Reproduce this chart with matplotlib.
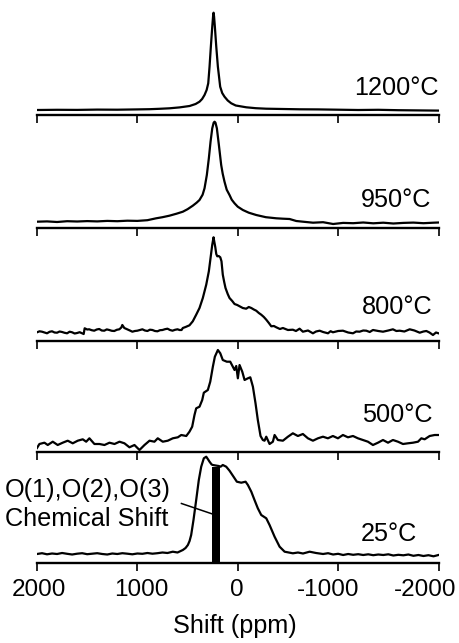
import numpy as np
import matplotlib
matplotlib.use("Agg")
import matplotlib.pyplot as plt
from matplotlib.patches import Rectangle
from matplotlib.transforms import ScaledTranslation

plt.rcParams['font.family'] = ['Liberation Sans', 'DejaVu Sans']

# ---------------------------------------------------------------------------
# 17O MAS NMR spectra (shift in ppm, intensity in arbitrary units, baseline = 0)
# ---------------------------------------------------------------------------
temperatures = ["1200°C", "950°C", "800°C", "500°C", "25°C"]

spectrum_1200 = [
    (2000, 0.0), (1800, 0.2), (1600, 0.1), (1400, 0.4), (1200, 0.3), (1000, 0.6),
    (880, 0.8), (780, 1.2), (680, 1.7), (580, 2.6), (480, 4.0), (420, 6.0),
    (381, 8.3), (355, 11.0), (331, 15.0), (310, 20.0), (294, 26.7), (281, 43.3),
    (268, 63.3), (254, 83.3), (246, 93.5), (241, 97.3), (236, 93.5), (228, 83.3),
    (214, 63.3), (198, 43.3), (175, 23.3), (155, 17.0), (132, 13.3), (100, 9.5),
    (65, 6.7), (20, 4.5), (-85, 2.7), (-180, 1.8), (-283, 1.3), (-450, 1.0),
    (-616, 0.7), (-800, 0.6), (-1000, 0.3), (-1200, 0.0), (-1400, 0.2),
    (-1600, -0.2), (-1800, -0.4), (-2000, -0.6),
]

spectrum_950 = [
    (2000, 0.0), (1900, 0.3), (1800, -0.3), (1700, 0.5), (1600, 0.2), (1500, 0.6),
    (1400, 0.3), (1300, 0.8), (1200, 0.5), (1100, 1.0), (1000, 0.8), (900, 1.5),
    (813, 3.4), (750, 4.5), (681, 6.0), (610, 8.0), (547, 10.0), (500, 12.5),
    (448, 16.0), (410, 19.0), (381, 21.7), (350, 27.0), (331, 33.4), (308, 46.7),
    (288, 63.4), (271, 80.0), (254, 93.4), (240, 99.0), (231, 100.0), (222, 99.0),
    (208, 93.4), (188, 76.7), (165, 56.7), (150, 48.0), (132, 40.0), (110, 32.0),
    (82, 26.7), (60, 22.0), (32, 18.4), (0, 15.0), (-51, 11.7), (-110, 9.0),
    (-184, 6.7), (-280, 4.5), (-384, 3.4), (-450, 3.0), (-516, 2.7), (-583, 0.7),
    (-650, 0.0), (-750, -1.0), (-850, -0.5), (-950, -2.3), (-1050, -1.2),
    (-1150, -1.5), (-1250, -0.8), (-1350, -1.6), (-1450, -1.0), (-1550, -1.8),
    (-1650, -1.2), (-1750, -0.9), (-1850, -1.5), (-1950, -1.0), (-2000, -0.8),
]

spectrum_800 = [
    (2000, -0.3), (1975, 0.7), (1950, 0.3), (1925, -0.5), (1900, -1.3), (1875, 0.2),
    (1850, 0.7), (1825, -0.5), (1800, -0.7), (1775, 0.5), (1750, 0.0), (1725, -0.8),
    (1700, -1.3), (1675, 0.3), (1650, -0.3), (1625, -1.5), (1600, -1.0), (1575, -0.2),
    (1550, -1.3), (1535, -2.0), (1525, 3.7), (1500, 2.5), (1480, 2.7), (1455, 1.8),
    (1430, 1.3), (1405, 2.5), (1380, 3.0), (1355, 1.5), (1330, 1.3), (1305, 2.6),
    (1280, 2.0), (1255, 1.2), (1230, 1.0), (1205, 2.2), (1180, 2.7), (1160, 4.5),
    (1150, 7.0), (1130, 4.0), (1100, 2.7), (1075, 1.5), (1050, 0.3), (1025, 1.0),
    (1000, 1.3), (975, 2.0), (950, 2.7), (925, 1.5), (900, 1.0), (875, 2.3),
    (850, 2.0), (825, 1.0), (800, 0.7), (775, 1.8), (750, 2.0), (725, 2.8),
    (700, 3.3), (675, 2.0), (650, 1.3), (625, 2.2), (600, 2.7), (580, 2.0),
    (560, 2.0), (547, 4.0), (520, 5.0), (481, 6.7), (448, 10.7), (414, 17.3),
    (381, 24.0), (348, 34.0), (314, 47.3), (288, 60.7), (271, 74.0), (254, 87.3),
    (246, 92.0), (241, 94.7), (235, 91.0), (224, 85.0), (214, 78.0), (204, 75.7),
    (190, 76.0), (174, 74.7), (162, 70.7), (149, 57.3), (135, 50.0), (122, 44.0),
    (100, 38.0), (82, 34.0), (55, 31.0), (32, 28.0), (5, 27.0), (-18, 25.7),
    (-50, 24.0), (-84, 23.3), (-110, 25.0), (-135, 24.0), (-160, 22.5), (-184, 21.3),
    (-210, 19.0), (-234, 17.3), (-260, 15.0), (-284, 12.3), (-310, 9.0), (-334, 5.7),
    (-360, 6.0), (-384, 4.7), (-420, 3.0), (-450, 4.0), (-500, 2.0), (-549, 2.3),
    (-580, 1.0), (-616, 3.3), (-649, 0.3), (-700, 1.5), (-749, -1.3), (-780, 0.5),
    (-816, 1.3), (-850, 0.0), (-899, -1.3), (-925, 0.8), (-948, -0.3), (-1000, 1.0),
    (-1048, 1.3), (-1100, -0.5), (-1148, -1.3), (-1180, 0.5), (-1214, 0.3),
    (-1250, 1.5), (-1281, 1.3), (-1315, 0.0), (-1347, 2.0), (-1400, 1.0),
    (-1447, 0.3), (-1500, 1.5), (-1546, 2.7), (-1580, 1.0), (-1613, 1.3),
    (-1660, 0.5), (-1713, 2.7), (-1760, 1.5), (-1813, -0.7), (-1850, 0.5),
    (-1879, 1.0), (-1910, -0.5), (-1945, -3.0), (-1975, -0.5), (-2000, -1.3),
]

spectrum_500 = [
    (2000, -5.0), (1976, -1.0), (1926, 0.3), (1893, -2.0), (1843, 1.3), (1794, -2.0),
    (1744, 0.3), (1694, 2.3), (1644, -0.3), (1594, 2.3), (1544, 3.7), (1510, 1.3),
    (1478, 4.7), (1428, -1.0), (1378, -1.0), (1328, -2.0), (1278, 0.3), (1228, -1.0),
    (1178, 1.3), (1129, -0.3), (1079, -4.3), (1029, -2.0), (979, -7.0), (929, -2.0),
    (879, 2.3), (830, 1.3), (797, 4.7), (747, 1.3), (697, 2.3), (647, 4.7),
    (597, 5.7), (563, 8.0), (513, 7.0), (481, 11.3), (454, 16.3), (431, 28.0),
    (414, 34.7), (381, 36.3), (354, 43.0), (338, 50.3), (298, 53.0), (274, 61.3),
    (248, 76.3), (228, 86.3), (198, 93.0), (174, 89.7), (149, 83.0), (109, 81.3),
    (75, 81.3), (49, 76.3), (32, 73.0), (15, 77.0), (-1, 64.7), (-18, 78.0),
    (-45, 71.3), (-68, 63.0), (-101, 64.7), (-125, 65.7), (-151, 56.3), (-177, 39.7),
    (-200, 23.0), (-227, 7.0), (-250, 3.0), (-267, 2.3), (-284, 6.3), (-317, -1.0),
    (-350, 1.3), (-367, 8.0), (-400, 3.0), (-450, 2.3), (-500, 6.3), (-549, 9.7),
    (-599, 7.0), (-649, 9.0), (-699, 4.7), (-749, 2.3), (-799, 4.7), (-849, 6.3),
    (-898, 4.7), (-948, 7.0), (-998, 4.7), (-1048, 8.0), (-1098, 5.7), (-1148, 7.0),
    (-1197, 4.7), (-1247, 3.0), (-1297, 1.3), (-1347, -2.0), (-1397, 0.3),
    (-1447, 3.0), (-1497, 0.3), (-1546, 3.0), (-1596, 1.3), (-1646, -1.0),
    (-1696, -0.3), (-1746, 0.3), (-1796, 1.3), (-1829, 4.7), (-1862, 3.7),
    (-1912, 7.0), (-1962, 8.0), (-2000, 8.0),
]

spectrum_25 = [
    (2000, 0.0), (1950, 0.8), (1900, -0.3), (1850, 0.5), (1800, 0.0), (1750, 1.0),
    (1700, 0.2), (1650, -0.5), (1600, 0.3), (1550, 0.8), (1500, -0.2), (1450, 0.3),
    (1400, 0.8), (1350, 0.0), (1300, -0.5), (1250, 0.5), (1200, 0.0), (1150, 0.8),
    (1100, 0.3), (1050, -0.3), (1000, 0.5), (950, 0.2), (900, 1.0), (850, 0.3),
    (800, 0.8), (750, 1.5), (700, 1.0), (647, 2.3), (600, 1.5), (547, 4.0),
    (520, 6.0), (497, 9.0), (480, 13.0), (464, 19.0), (441, 34.0), (414, 54.0),
    (388, 74.0), (364, 87.3), (338, 95.7), (314, 97.3), (295, 94.5), (281, 92.3),
    (260, 89.5), (248, 89.0), (220, 88.5), (190, 88.0), (171, 87.3), (149, 89.0),
    (115, 87.3), (82, 83.3), (42, 77.3), (9, 72.3), (-35, 71.3), (-78, 72.3),
    (-101, 69.0), (-135, 62.3), (-167, 54.0), (-200, 45.7), (-234, 39.0),
    (-284, 35.7), (-317, 29.0), (-367, 17.3), (-417, 7.3), (-467, 2.3), (-549, 0.7),
    (-600, 1.5), (-650, 0.5), (-716, 2.3), (-780, 1.0), (-850, 0.0), (-900, 0.8),
    (-950, -0.5), (-1000, 0.2), (-1050, -1.0), (-1100, 0.0), (-1150, -0.8),
    (-1200, -0.2), (-1250, -1.0), (-1300, -0.3), (-1350, -1.2), (-1400, -0.5),
    (-1450, -1.0), (-1500, -0.3), (-1550, -1.5), (-1600, -0.8), (-1650, -1.3),
    (-1700, -0.5), (-1750, -1.8), (-1800, -1.0), (-1850, -2.0), (-1900, -1.2),
    (-1950, -2.3), (-2000, -1.0),
]

spectra = [spectrum_1200, spectrum_950, spectrum_800, spectrum_500, spectrum_25]

# crystallographic O(1), O(2), O(3) isotropic shifts (ppm range)
shift_band = (252, 172)
shift_band_top = 87.0

tick_values = [2000, 1000, 0, -1000, -2000]
tick_labels = ["2000", "1000", "0", "-1000", "-2000"]

# ---------------------------------------------------------------------------
# layout (pixels of a 459 x 643 canvas)
# ---------------------------------------------------------------------------
W, H = 459, 643
x_left, x_right = 37.0, 438.5
axis_rows = [115.0, 228.3, 341.0, 451.7, 563.3]
panel_h = 112.0
base_offset = [5.0, 6.6, 9.0, 8.7, 9.3]
label_x = [-1160, -1224, -1234, -1234, -1224]
label_y = [15.0, 15.0, 18.0, 21.3, 13.3]
tick_shift_px = [1.5, 3.8, -0.5, -10.0, -13.0]
FS = 18.2

fig = plt.figure(figsize=(W / 100, H / 100), dpi=100)
fig.patch.set_facecolor("white")

axes = []
for i, (spec, temp) in enumerate(zip(spectra, temperatures)):
    ax = fig.add_axes([x_left / W, 1 - axis_rows[i] / H,
                       (x_right - x_left) / W, panel_h / H])
    ax.patch.set_visible(False)
    ppm = np.array([p for p, _ in spec], dtype=float)
    amp = np.array([a for _, a in spec], dtype=float)
    ax.plot(ppm, amp, color="black", lw=1.6, solid_joinstyle="round")
    ax.set_xlim(2000, -2000)
    ax.set_ylim(-base_offset[i], panel_h - base_offset[i])
    for side in ("top", "left", "right"):
        ax.spines[side].set_visible(False)
    ax.spines["bottom"].set_linewidth(1.7)
    ax.set_yticks([])
    ax.set_xticks(tick_values)
    ax.tick_params(axis="x", direction="out", length=5.5, width=1.2,
                   pad=5.6, labelsize=FS - 0.7, color="black")
    if i == len(spectra) - 1:
        ax.set_xticklabels(tick_labels)
        for lab, dx in zip(ax.get_xticklabels(), tick_shift_px):
            lab.set_transform(lab.get_transform()
                              + ScaledTranslation(dx / 100, 0, fig.dpi_scale_trans))
    else:
        ax.set_xticklabels([])
    ax.text(label_x[i], label_y[i], temp, fontsize=FS, ha="left",
            va="baseline", color="black")
    axes.append(ax)

# chemical shift marker on the 25 °C spectrum
ax25 = axes[-1]
y0 = -base_offset[-1]
ax25.add_patch(Rectangle((shift_band[1], y0), shift_band[0] - shift_band[1],
                         shift_band_top - y0, facecolor="black",
                         edgecolor="none", zorder=3))
ax25.plot([561, shift_band[0]], [50.5, 40.0], color="black", lw=1.1,
          zorder=4, clip_on=False)
ax25.text(2320, 57.0, "O(1),O(2),O(3)", fontsize=FS, ha="left",
          va="baseline", clip_on=False)
ax25.text(2320, 28.0, "Chemical Shift", fontsize=FS, ha="left",
          va="baseline", clip_on=False)

fig.text(235 / W, 1 - 633.3 / H, "Shift (ppm)", fontsize=FS, ha="center",
         va="baseline")

fig.savefig("out.png", dpi=100, facecolor="white")
